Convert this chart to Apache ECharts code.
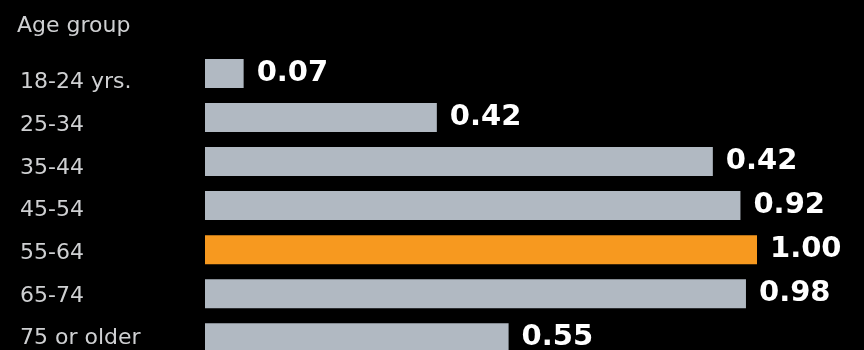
<!DOCTYPE html>
<html>
<head>
<meta charset="utf-8">
<script src="https://cdn.jsdelivr.net/npm/echarts@6/dist/echarts.min.js"></script>
<style>
html,body{margin:0;padding:0;background:#000;overflow:hidden;}
#chart{width:864px;height:380px;}
</style>
</head>
<body>
<div id="chart"></div>
<script>
const categories = ['18-24 yrs.', '25-34', '35-44', '45-54', '55-64', '65-74', '75 or older'];
const values = [0.07, 0.42, 0.92, 0.97, 1.00, 0.98, 0.55];
const valueLabels = ['0.07', '0.42', '0.42', '0.92', '1.00', '0.98', '0.55'];
const highlighted = '55-64';
const axisTitle = 'Age group';

const chart = echarts.init(document.getElementById('chart'), null, {renderer: 'canvas'});
chart.setOption({
  backgroundColor: '#000000',
  animation: false,
  title: {
    text: axisTitle,
    left: 17, top: 15, padding: 0,
    textStyle: {color: '#cfd0d2', fontFamily: 'DejaVu Sans', fontSize: 22, fontWeight: 'normal'}
  },
  grid: [
    {left: 205, top: 61, width: 552, height: 299, containLabel: false},
    {left: 205, top: 51.4, width: 552, height: 308.4, containLabel: false}
  ],
  xAxis: [
    {type: 'value', gridIndex: 0, min: 0, max: 1, show: false},
    {type: 'value', gridIndex: 1, min: 0, max: 1, show: false}
  ],
  yAxis: [
    {
      type: 'category', gridIndex: 0, data: categories, inverse: true,
      axisLine: {show: false}, axisTick: {show: false}, splitLine: {show: false},
      axisLabel: {
        align: 'left', margin: 185, color: '#cfd0d2',
        fontFamily: 'DejaVu Sans', fontSize: 22
      }
    },
    {
      type: 'category', gridIndex: 1, data: categories, inverse: true,
      axisLine: {show: false}, axisTick: {show: false}, splitLine: {show: false},
      axisLabel: {show: false}
    }
  ],
  series: [{
    type: 'bar',
    xAxisIndex: 1, yAxisIndex: 1,
    data: values,
    barWidth: 29,
    itemStyle: {
      color: p => categories[p.dataIndex] === highlighted ? '#f7991f' : '#b1b9c2'
    },
    label: {
      show: true, position: 'right', distance: 13,
      formatter: p => valueLabels[p.dataIndex],
      color: '#ffffff', fontFamily: 'DejaVu Sans', fontWeight: 'bold', fontSize: 29,
      padding: [5, 0, 0, 0]
    }
  }]
});
</script>
</body>
</html>
